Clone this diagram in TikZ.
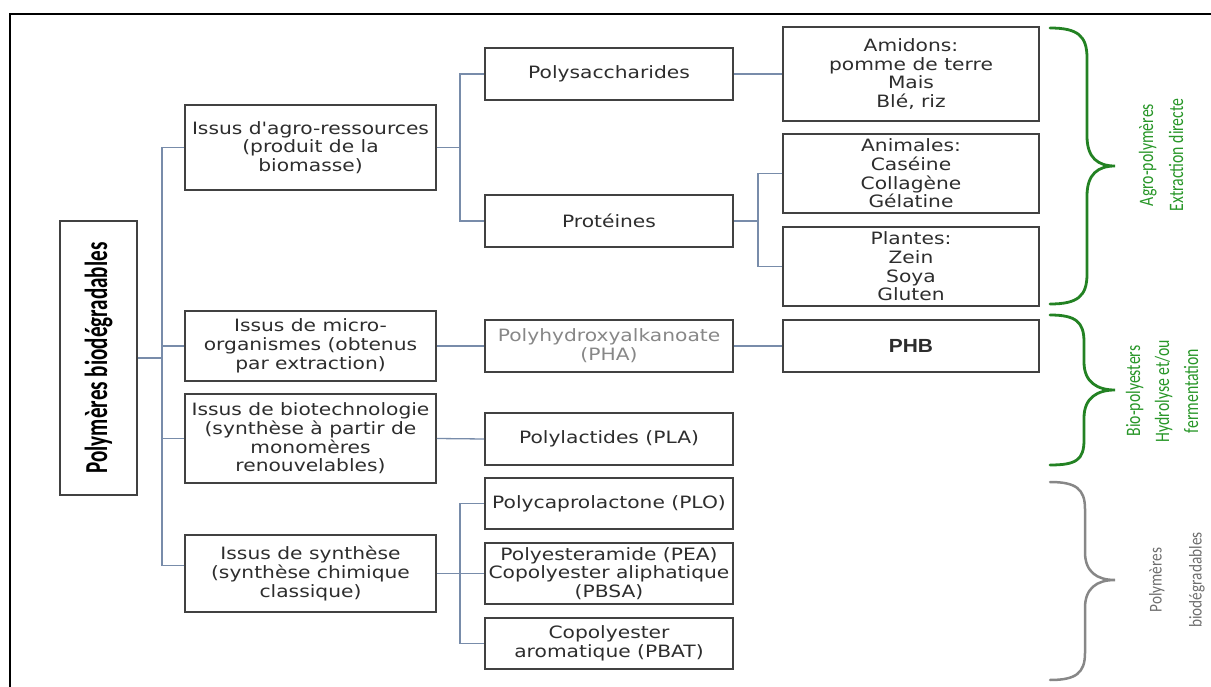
\documentclass[tikz,border=0pt]{standalone}
\usepackage{fontspec}
\usetikzlibrary{calc}
\newfontfamily\boxfont[FakeStretch=1.19]{DejaVu Sans}
\newfontfamily\rootfont[FakeStretch=0.66]{Carlito}
\newfontfamily\labfont[FakeStretch=0.77]{Carlito}
\newfontfamily\graylabfont[FakeStretch=0.85]{Carlito}
\newfontfamily\phbfont[FakeStretch=1.1]{Liberation Sans}
\definecolor{connc}{RGB}{120,140,170}
\definecolor{boxline}{RGB}{65,65,65}
\definecolor{boxtext}{RGB}{45,45,45}
\definecolor{phatext}{RGB}{135,135,135}
\definecolor{gbracec}{RGB}{35,130,35}
\definecolor{gtextc}{RGB}{40,150,40}
\definecolor{graybracec}{RGB}{135,135,135}
\definecolor{graytextc}{RGB}{110,110,110}
\begin{document}
\begin{tikzpicture}[x=1pt,y=-1pt,
  box/.style={draw=boxline, line width=1.7pt, inner sep=0pt, align=center,
    font=\boxfont\fontsize{17}{18.7}\selectfont, text=boxtext},
  lvA/.style={box, minimum width=251pt},
  lvB/.style={box, minimum width=248pt},
  lvC/.style={box, minimum width=256pt},
  conn/.style={draw=connc, line width=1.3pt},
  gbrace/.style={draw=gbracec, line width=2.8pt, line cap=round},
  graybrace/.style={draw=graybracec, line width=2.5pt, line cap=round},
  glab/.style={rotate=90, align=center, text=gtextc},
  graylab/.style={rotate=90, align=center, text=graytextc}
]
\useasboundingbox (0,0) rectangle (1211,687);
\draw[line width=2pt] (10,690) -- (10,14) -- (1215,14);

% root
\node[box, minimum width=77pt, minimum height=274pt,
  label={[rotate=90, text=black, font=\rootfont\bfseries\fontsize{32}{36}\selectfont]center:Polymères biodégradables}]
  (root) at (98.5,358) {};

% level 1
\node[lvA, minimum height=85pt] (a1) at (310.5,147.5) {Issus d'agro-ressources\\(produit de la\\biomasse)};
\node[lvA, minimum height=70pt] (a2) at (310.5,346) {Issus de micro-\\organismes (obtenus\\par extraction)};
\node[lvA, minimum height=89pt] (a3) at (310.5,438.5) {Issus de biotechnologie\\(synthèse à partir de\\monomères\\renouvelables)};
\node[lvA, minimum height=77pt] (a4) at (310.5,573.5) {Issus de synthèse\\(synthèse chimique\\classique)};

% level 2
\node[lvB, minimum height=52pt] (b1) at (609,74) {Polysaccharides};
\node[lvB, minimum height=52pt] (b2) at (609,221) {Protéines};
\node[lvB, minimum height=52pt, text=phatext] (b3) at (609,346) {Polyhydroxyalkanoate\\(PHA)};
\node[lvB, minimum height=52pt] (b4) at (609,439) {Polylactides (PLA)};
\node[lvB, minimum height=51pt] (b5) at (609,503.5) {Polycaprolactone (PLO)};
\node[lvB, minimum height=61pt] (b6) at (609,573.5) {Polyesteramide (PEA)\\Copolyester aliphatique\\(PBSA)};
\node[lvB, minimum height=51pt] (b7) at (609,643.5) {Copolyester\\aromatique (PBAT)};

% level 3
\node[lvC, minimum height=94pt] (c1) at (911,74) {Amidons:\\pomme de terre\\Mais\\Blé, riz};
\node[lvC, minimum height=79pt] (c2) at (911,173.5) {Animales:\\Caséine\\Collagène\\Gélatine};
\node[lvC, minimum height=79pt] (c3) at (911,266.5) {Plantes:\\Zein\\Soya\\Gluten};
\node[lvC, minimum height=52pt, font=\phbfont\bfseries\fontsize{19}{21}\selectfont] (c4) at (911,346) {PHB};

% trunk coordinates
\coordinate (t1) at (162,0);
\coordinate (t2) at (460,0);
\coordinate (t3) at (758,0);
\coordinate (a4c) at ($(a4.west)+(0,-8)$);

% connectors root -> level 1
\draw[conn] (root.east) -- (root.east -| t1);
\draw[conn] (a1.west) -- (a1.west -| t1) -- (a4c -| t1) -- (a4c);
\draw[conn] (a2.west -| t1) -- (a2.west);
\draw[conn] (a3.west -| t1) -- (a3.west);

% level 1 -> level 2
\draw[conn] (a1.east) -- (a1.east -| t2);
\draw[conn] (b1.west) -- (b1.west -| t2) -- (b2.west -| t2) -- (b2.west);
\draw[conn] (a2.east) -- (b3.west);
\draw[conn] (a3.east) -- (b4.west);
\draw[conn] (a4.east) -- (b6.west);
\draw[conn] (b5.west) -- (b5.west -| t2) -- (b7.west -| t2) -- (b7.west);

% level 2 -> level 3
\draw[conn] (b1.east) -- (c1.west);
\draw[conn] (b2.east) -- (b2.east -| t3);
\draw[conn] (c2.west) -- (c2.west -| t3) -- (c3.west -| t3) -- (c3.west);
\draw[conn] (b3.east) -- (c4.west);

% braces
\draw[gbrace] (1050,28) .. controls (1078,28) and (1087,36) .. (1087,58) -- (1087,136)
  .. controls (1087,158) and (1098,166) .. (1115,166)
  .. controls (1098,166) and (1087,174) .. (1087,196) -- (1087,274)
  .. controls (1087,296) and (1078,304) .. (1050,304);
\draw[gbrace] (1050,315) .. controls (1076,315) and (1084,322) .. (1084,342) -- (1084,362)
  .. controls (1084,382) and (1097,390) .. (1115,390)
  .. controls (1097,390) and (1084,398) .. (1084,418) -- (1084,440)
  .. controls (1084,460) and (1076,465) .. (1050,465);
\draw[graybrace] (1050,482) .. controls (1076,482) and (1085,489) .. (1085,509) -- (1085,552)
  .. controls (1085,572) and (1097,580) .. (1115,580)
  .. controls (1097,580) and (1085,588) .. (1085,608) -- (1085,653)
  .. controls (1085,673) and (1076,680) .. (1050,680);

% brace labels
\node[glab, font=\labfont\fontsize{20.5}{30}\selectfont] (L1) at (1161,155) {Agro-polymères\\Extraction directe};
\node[glab, font=\labfont\fontsize{20.5}{29}\selectfont] (L2) at (1162,391) {Bio-polyesters\\Hydrolyse et/ou\\fermentation};
\node[graylab, font=\graylabfont\fontsize{18}{40}\selectfont] (L3) at (1177,580) {Polymères\\biodégradables};
\end{tikzpicture}
\end{document}
